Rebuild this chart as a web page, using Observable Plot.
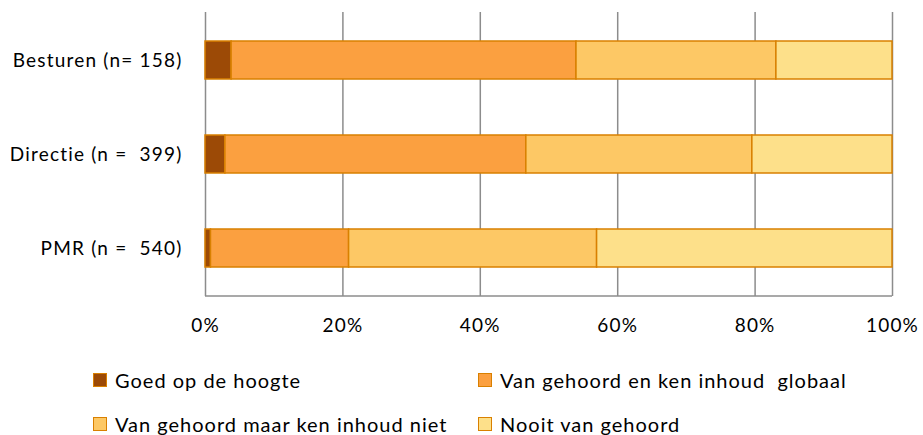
<!DOCTYPE html>
<html>
<head>
<meta charset="utf-8">
<script src="https://cdn.jsdelivr.net/npm/d3@7"></script>
<script src="https://cdn.jsdelivr.net/npm/@observablehq/plot@0.6"></script>
<style>
  html, body { margin: 0; padding: 0; background: #fff; }
  body { width: 923px; height: 435px; overflow: hidden; font-family: Lato, "Open Sans", sans-serif; }
  #legend { font-family: Lato, sans-serif; font-size: 20px; letter-spacing: 1px; color: #000; padding-top: 13px; }
  .row { display: flex; height: 44px; align-items: center; padding-left: 93px; }
  .item { display: flex; align-items: center; width: 385px; }
  .sw { width: 14px; height: 14px; box-sizing: border-box; border: 1.5px solid #D98000; margin-right: 8px; }
</style>
</head>
<body>
<div id="chart"></div>
<div id="legend"></div>
<script>
const groups = ["Besturen (n= 158)", "Directie (n =  399)", "PMR (n =  540)"];
const categories = ["Goed op de hoogte", "Van gehoord en ken inhoud  globaal", "Van gehoord maar ken inhoud niet", "Nooit van gehoord"];
const goed = [3.8, 2.9, 0.8];
const globaal = [50.2, 43.8, 20.1];
const niet = [29.1, 32.9, 36.1];
const nooit = [16.9, 20.4, 43.0];
const colors = ["#9C4A06", "#FBA040", "#FDC865", "#FDE08A"];
const xTicks = [0, 20, 40, 60, 80, 100];

const series = [goed, globaal, niet, nooit];
const data = [];
groups.forEach((g, i) => {
  series.forEach((s, k) => data.push({group: g, cat: categories[k], value: s[i], order: k}));
});

const chart = Plot.plot({
  width: 923,
  height: 345,
  marginLeft: 205,
  marginRight: 31,
  marginTop: 12,
  marginBottom: 49,
  style: { fontFamily: "Lato, sans-serif", fontSize: "19px", color: "#000", background: "#fff", letterSpacing: "1.2px" },
  x: { domain: [0, 100], ticks: xTicks, tickFormat: d => d + "%", label: null },
  y: { domain: groups, label: null, paddingInner: 0.6, paddingOuter: 0.3 },
  color: { domain: categories, range: colors },
  marks: [
    Plot.ruleX(xTicks, { stroke: "#8c8c8c", strokeWidth: 1.5 }),
    Plot.barX(data, Plot.stackX({
      y: "group", x: "value", fill: "cat", order: "order",
      stroke: "#D98000", strokeWidth: 1.5
    })),
    Plot.axisX({ ticks: xTicks, tickFormat: d => d + "%", tickSize: 0, tickPadding: 22, anchor: "bottom", fontSize: 19 }),
    Plot.axisY({ tickSize: 0, tickPadding: 23, fontSize: 19 })
  ]
});
document.getElementById("chart").appendChild(chart);

// bottom frame line
d3.select(chart).append("line").attr("x1", 205).attr("x2", 892).attr("y1", 296).attr("y2", 296)
  .attr("stroke", "#8c8c8c").attr("stroke-width", 1.5);

const legend = document.getElementById("legend");
for (let r = 0; r < 2; r++) {
  const row = document.createElement("div");
  row.className = "row";
  for (let c = 0; c < 2; c++) {
    const k = r * 2 + c;
    const item = document.createElement("div");
    item.className = "item";
    const sw = document.createElement("span");
    sw.className = "sw";
    sw.style.background = colors[k];
    const t = document.createElement("span");
    t.textContent = categories[k];
    t.style.whiteSpace = "pre";
    item.appendChild(sw);
    item.appendChild(t);
    row.appendChild(item);
  }
  legend.appendChild(row);
}
</script>
</body>
</html>
